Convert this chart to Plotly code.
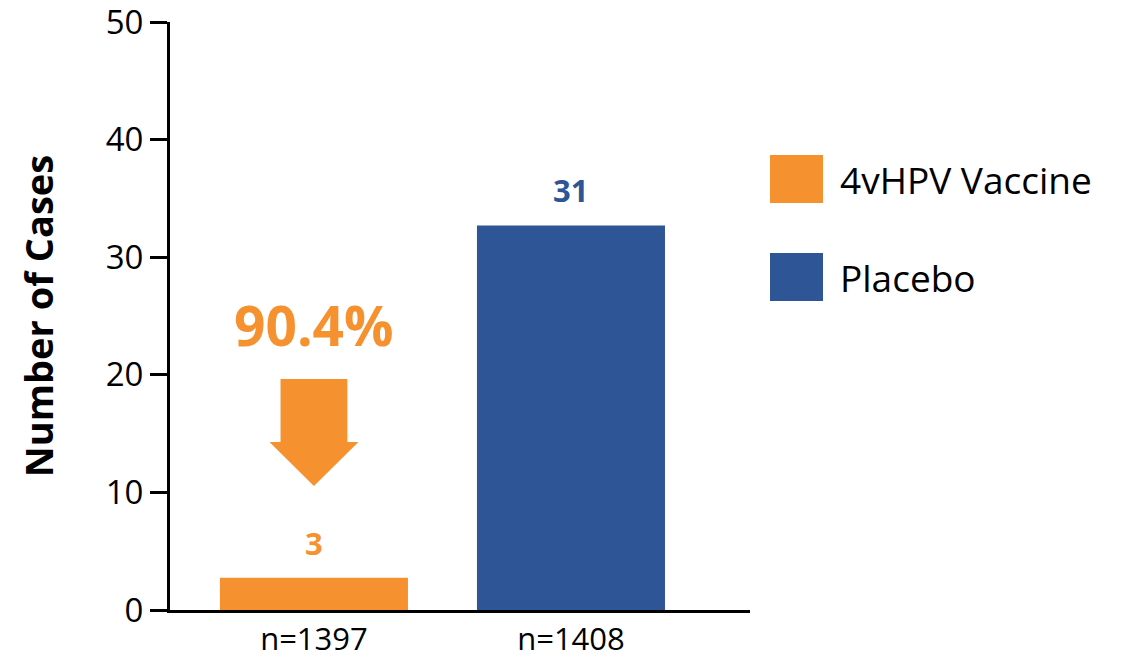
import plotly.graph_objects as go

# ---- data ----
series_names = ["4vHPV Vaccine", "Placebo"]
sample_sizes = ["n=1397", "n=1408"]
bar_heights = [2.75, 32.7]          # bar heights as drawn
case_labels = ["3", "31"]           # value labels printed above bars
efficacy_label = "90.4%"
series_colors = ["#F5912E", "#2E5596"]
y_ticks = [0, 10, 20, 30, 40, 50]

FONT = "Open Sans"

fig = go.Figure()
positions = list(range(len(series_names)))
for i, name in enumerate(series_names):
    fig.add_trace(go.Bar(
        x=[positions[i]], y=[bar_heights[i]], name=name,
        marker=dict(color=series_colors[i], line=dict(width=0)),
        width=0.7315, showlegend=False,
        hovertemplate="%{y}<extra>" + name + "</extra>",
    ))
    # value labels above bars
    fig.add_annotation(
        x=positions[i], y=bar_heights[i], text=f"<b>{case_labels[i]}</b>",
        showarrow=False, yanchor="bottom", yshift=12,
        font=dict(family=FONT, size=31, color=series_colors[i]),
    )

# efficacy label and down arrow over the vaccine bar
fig.add_annotation(
    x=positions[0], y=24.3, text=f"<b>{efficacy_label}</b>", showarrow=False,
    yanchor="middle", font=dict(family=FONT, size=55, color=series_colors[0]),
)
c = positions[0]
sw, hw = 0.13, 0.173
y_top, y_head, y_tip = 19.64, 14.29, 10.54
arrow_path = (f"M {c-sw},{y_top} L {c+sw},{y_top} L {c+sw},{y_head} L {c+hw},{y_head} "
              f"L {c},{y_tip} L {c-hw},{y_head} L {c-sw},{y_head} Z")
fig.add_shape(type="path", path=arrow_path, xref="x", yref="y",
              fillcolor=series_colors[0], line=dict(width=0), layer="above")

# manual legend (large square swatches)
def px_x(p):
    return (p - 170) / 580.0

def px_y(p):
    return (610 - p) / 588.0

legend_rows = [(155, 203), (253, 301)]
for i, name in enumerate(series_names):
    top, bot = legend_rows[i]
    fig.add_shape(type="rect", xref="paper", yref="paper",
                  x0=px_x(770), x1=px_x(823), y0=px_y(bot), y1=px_y(top),
                  fillcolor=series_colors[i], line=dict(width=0))
    fig.add_annotation(xref="paper", yref="paper", x=px_x(838), y=px_y((top + bot) / 2),
                       text=name, showarrow=False, xanchor="left", yanchor="middle",
                       font=dict(family=FONT, size=37, color="black"))

fig.update_layout(
    width=1125, height=660,
    margin=dict(l=170, r=375, t=22, b=50),
    plot_bgcolor="white", paper_bgcolor="white",
    barmode="overlay",
    font=dict(family=FONT, color="black"),
    showlegend=False,
)
fig.update_xaxes(
    range=[-0.56, 1.6965], tickvals=positions, ticktext=sample_sizes,
    showline=True, linecolor="black", linewidth=3, ticks="",
    showgrid=False, zeroline=False, ticklabelstandoff=0, automargin=False,
    ticklabeloverflow="allow",
    tickfont=dict(family=FONT, size=31, color="black"),
)
fig.update_yaxes(
    range=[0, 50], tickvals=y_ticks,
    showline=True, linecolor="black", linewidth=3,
    ticks="outside", ticklen=17, tickwidth=3, tickcolor="black",
    showgrid=False, zeroline=False, automargin=False,
    ticklabeloverflow="allow",
    tickfont=dict(family=FONT, size=33, color="black"),
    title=dict(text="<b>Number of Cases</b>", standoff=41,
               font=dict(family=FONT, size=38, color="black")),
)

fig.write_html("out.html")
